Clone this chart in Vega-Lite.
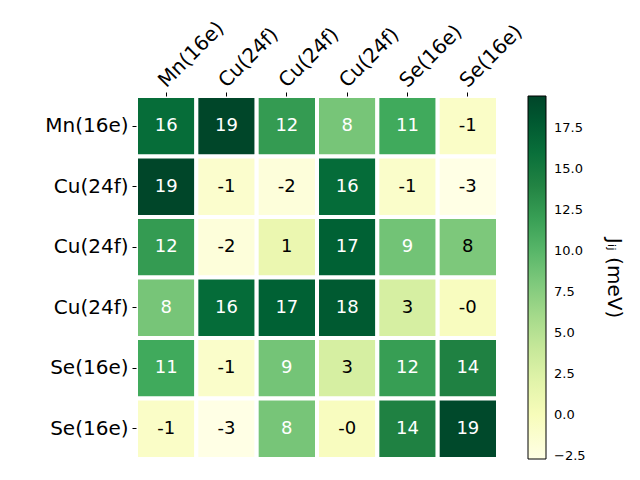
{
  "$schema": "https://vega.github.io/schema/vega-lite/v6.json",
  "width": 362,
  "height": 363,
  "padding": {"left": 44, "top": 17, "right": 5, "bottom": 5},
  "background": "white",
  "config": {
    "view": {"stroke": null},
    "font": "DejaVu Sans"
  },
  "data": {
    "values": [
      {"r": 0, "c": 0, "v": 16.2, "t": "16"}, {"r": 0, "c": 1, "v": 19.4, "t": "19"}, {"r": 0, "c": 2, "v": 12.3, "t": "12"}, {"r": 0, "c": 3, "v": 8.45, "t": "8"}, {"r": 0, "c": 4, "v": 11.2, "t": "11"}, {"r": 0, "c": 5, "v": -0.8, "t": "-1"},
      {"r": 1, "c": 0, "v": 19.4, "t": "19"}, {"r": 1, "c": 1, "v": -1.2, "t": "-1"}, {"r": 1, "c": 2, "v": -2.0, "t": "-2"}, {"r": 1, "c": 3, "v": 16.3, "t": "16"}, {"r": 1, "c": 4, "v": -1.0, "t": "-1"}, {"r": 1, "c": 5, "v": -2.7, "t": "-3"},
      {"r": 2, "c": 0, "v": 12.3, "t": "12"}, {"r": 2, "c": 1, "v": -2.0, "t": "-2"}, {"r": 2, "c": 2, "v": 1.2, "t": "1"}, {"r": 2, "c": 3, "v": 17.2, "t": "17"}, {"r": 2, "c": 4, "v": 8.7, "t": "9"}, {"r": 2, "c": 5, "v": 8.1, "t": "8"},
      {"r": 3, "c": 0, "v": 8.45, "t": "8"}, {"r": 3, "c": 1, "v": 16.3, "t": "16"}, {"r": 3, "c": 2, "v": 17.2, "t": "17"}, {"r": 3, "c": 3, "v": 17.8, "t": "18"}, {"r": 3, "c": 4, "v": 3.0, "t": "3"}, {"r": 3, "c": 5, "v": -0.3, "t": "-0"},
      {"r": 4, "c": 0, "v": 11.2, "t": "11"}, {"r": 4, "c": 1, "v": -1.0, "t": "-1"}, {"r": 4, "c": 2, "v": 8.6, "t": "9"}, {"r": 4, "c": 3, "v": 3.0, "t": "3"}, {"r": 4, "c": 4, "v": 12.1, "t": "12"}, {"r": 4, "c": 5, "v": 14.2, "t": "14"},
      {"r": 5, "c": 0, "v": -0.8, "t": "-1"}, {"r": 5, "c": 1, "v": -2.7, "t": "-3"}, {"r": 5, "c": 2, "v": 8.45, "t": "8"}, {"r": 5, "c": 3, "v": -0.3, "t": "-0"}, {"r": 5, "c": 4, "v": 14.2, "t": "14"}, {"r": 5, "c": 5, "v": 19.1, "t": "19"}
    ]
  },
  "encoding": {
    "x": {
      "field": "c", "type": "ordinal", "title": null,
      "scale": {"paddingInner": 0, "paddingOuter": 0},
      "axis": {
        "orient": "top", "domain": false, "labelAngle": -45, "labelAlign": "left", "labelBaseline": "alphabetic",
        "labelFontSize": 20, "labelColor": "black", "tickColor": "black", "tickSize": 4, "labelPadding": 4,
        "labelExpr": "['Mn(16e)','Cu(24f)','Cu(24f)','Cu(24f)','Se(16e)','Se(16e)'][datum.value]"
      }
    },
    "y": {
      "field": "r", "type": "ordinal", "title": null,
      "scale": {"paddingInner": 0, "paddingOuter": 0},
      "axis": {
        "domain": false, "labelAngle": 0, "labelFontSize": 20, "labelColor": "black", "tickColor": "black", "tickSize": 4, "labelPadding": 4,
        "labelExpr": "['Mn(16e)','Cu(24f)','Cu(24f)','Cu(24f)','Se(16e)','Se(16e)'][datum.value]"
      }
    }
  },
  "layer": [
    {
      "mark": {"type": "rect", "stroke": "white", "strokeWidth": 4},
      "encoding": {
        "color": {
          "field": "v", "type": "quantitative",
          "scale": {
            "type": "linear",
            "domain": [-2.7, 0.06875, 2.8375, 5.60625, 8.375, 11.14375, 13.9125, 16.68125, 19.45],
            "range": ["#ffffe5", "#f7fcb9", "#d9f0a3", "#addd8e", "#78c679", "#41ab5d", "#238443", "#006837", "#004529"],
            "interpolate": "rgb", "nice": false, "zero": false
          },
          "legend": {
            "title": "Jᵢⱼ (meV)", "titleOrient": "right", "titleAngle": 90, "titleAnchor": "middle", "titleBaseline": "bottom",
            "titleFontSize": 20, "titleFontWeight": "normal", "titleColor": "black", "titlePadding": 18,
            "gradientLength": 363, "gradientThickness": 18, "gradientStrokeColor": "black", "gradientStrokeWidth": 1,
            "values": [-2.5, 0, 2.5, 5, 7.5, 10, 12.5, 15, 17.5], "format": ".1f",
            "labelFontSize": 13, "labelColor": "black", "labelOffset": 8, "offset": 30
          }
        }
      }
    },
    {
      "mark": {"type": "text", "fontSize": 18},
      "encoding": {
        "text": {"field": "t"},
        "color": {
          "condition": {"test": "datum.v > 8.375", "value": "white"},
          "value": "black"
        }
      }
    }
  ]
}
